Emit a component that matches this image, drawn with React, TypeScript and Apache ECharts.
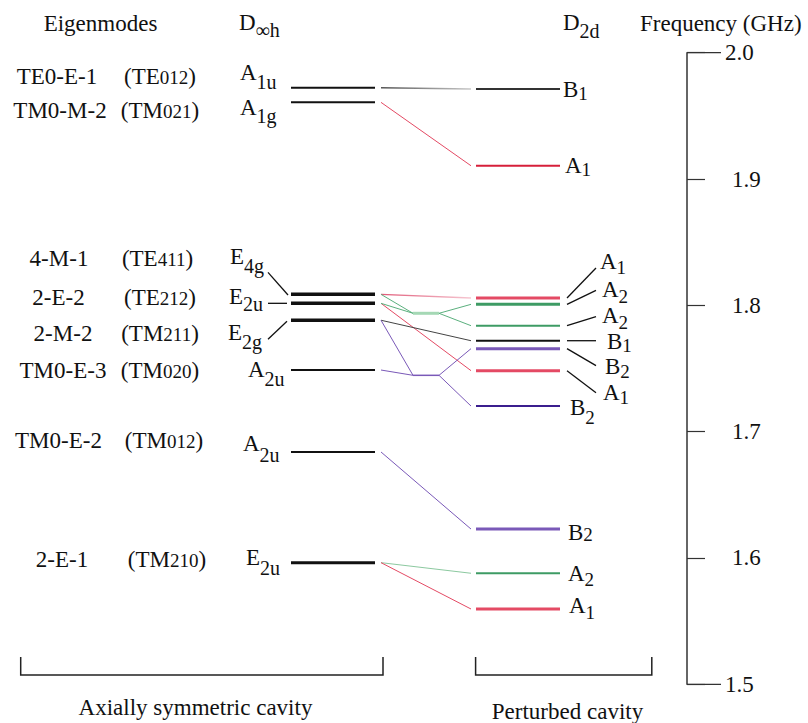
import React, { useEffect, useRef } from "react";
import * as echarts from "echarts";

// ---------------- data ----------------
const frequencyTicks = [1.5, 1.6, 1.7, 1.8, 1.9, 2.0];
const endTicks = [2.0, 1.5];
const modeNames = ["TE0-E-1", "TM0-M-2", "4-M-1", "2-E-2", "2-M-2", "TM0-E-3", "TM0-E-2", "2-E-1"];
const modeFamilies = ["TE", "TM", "TE", "TE", "TM", "TM", "TM", "TM"];
const modeIndices = ["012", "021", "411", "212", "211", "020", "012", "210"];
const axialSymbols = ["A", "A", "E", "E", "E", "A", "A", "E"];
const axialSubscripts = ["1u", "1g", "4g", "2u", "2g", "2u", "2u", "2u"];
const axialFrequencies = [1.9723, 1.9607, 1.8087, 1.8016, 1.7882, 1.7488, 1.6839, 1.5963];
const perturbedSymbols = ["B", "A", "A", "A", "A", "B", "B", "A", "B", "B", "A", "A"];
const perturbedSubscripts = ["1", "1", "1", "2", "2", "1", "2", "1", "2", "2", "2", "1"];
const perturbedFrequencies = [1.9713, 1.9105, 1.8058, 1.8008, 1.7839, 1.772, 1.7657, 1.7483, 1.7203, 1.6229, 1.5879, 1.5596];
const nodeFrequencies = [1.7937, 1.7446];
const nodeInputs = [[2, 3], [4, 5]];
const nodeOutputs = [[3, 4], [6, 8]];
const directLinks = [[0, 0], [1, 1], [2, 2], [3, 7], [4, 5], [6, 9], [7, 10], [7, 11]];

// ---------------- layout & style ----------------
const SERIF = "'Liberation Serif', 'DejaVu Serif', serif";
const F = (px: number) => `${px}px ${SERIF}`;
const INK = "#111";
const COL = { aL: 291, aR: 375, linkL: 381, nodeL: 413, nodeR: 439, linkR: 471, pL: 476, pR: 560, axis: 687, endTick: 721 };
const GRID_TOP = 52.7;
const GRID_BOTTOM = 38.7;

const RED = "#e44a64";
const RED_TOP = "#d61f3a";
const GREEN = "#3e9b64";
const PURPLE = "#7a59b8";
const INDIGO = "#3b1e8e";

const axialWidths = [2, 2, 3.5, 3.5, 3.5, 2, 2, 3];
const axialLabelLayout: any[] = [
  { x: 240, dy: -15, sub: 9 },
  { x: 240, dy: 5, sub: 9 },
  { x: 230, dy: -38, sub: 10, leader: [268, -22, 288, 0.7] },
  { x: 229, dy: -7, sub: 8, leader: [268, 0, 287, 0] },
  { x: 228, dy: 12, sub: 10, leader: [268, 19, 287, 1] },
  { x: 248, dy: -1, sub: 10 },
  { x: 243, dy: -8, sub: 11 },
  { x: 246, dy: -5, sub: 10 },
];
const perturbedColors = ["#333", RED_TOP, RED, GREEN, GREEN, INK, PURPLE, RED, INDIGO, PURPLE, GREEN, RED];
const perturbedWidths = [2, 2, 3, 3, 2, 2, 3, 3, 2, 3, 2, 3];
const perturbedLabelLayout: any[] = [
  { x: 563, dy: 1, sub: 4 },
  { x: 565, dy: 0, sub: 4 },
  { x: 600, dy: -37, sub: 6, leader: [567, 0, 596, -30] },
  { x: 602, dy: -15, sub: 7, leader: [567, 0, 596, -14] },
  { x: 602, dy: -10, sub: 7, leader: [567, 0, 596, -9] },
  { x: 607, dy: 1, sub: 4, leader: [567, 0, 596, 0] },
  { x: 605, dy: 18, sub: 5, leader: [567, 0, 596, 17] },
  { x: 603, dy: 22, sub: 5, leader: [567, 0, 596, 22] },
  { x: 570, dy: 1.5, sub: 9.5 },
  { x: 568, dy: 3, sub: 2 },
  { x: 568, dy: 0, sub: 6.5 },
  { x: 569, dy: -4, sub: 7 },
];
const fade = (a: string, b: string) =>
  new echarts.graphic.LinearGradient(0, 0, 1, 0, [
    { offset: 0, color: a },
    { offset: 1, color: b },
  ]);
const directLinkStyles = [
  { stroke: fade("#555", "#c8c8c8"), lineWidth: 1.5 },
  { stroke: RED, lineWidth: 1 },
  { stroke: fade("#e05a78", "#f6c8d2"), lineWidth: 1.3 },
  { stroke: RED, lineWidth: 1 },
  { stroke: "#444", lineWidth: 1 },
  { stroke: PURPLE, lineWidth: 1 },
  { stroke: "#8cc9a0", lineWidth: 1 },
  { stroke: RED, lineWidth: 1 },
];
const nodeStyles = [
  { line: { stroke: "#5bb07e", lineWidth: 1 }, bar: { stroke: "#a5d8b5", lineWidth: 3 } },
  { line: { stroke: PURPLE, lineWidth: 1 }, bar: { stroke: PURPLE, lineWidth: 1.5 } },
];
const modeRowY = [76, 110, 258, 297, 333, 370, 440, 559];
const modeNameX = [57, 60, 59, 58.5, 63, 63, 58.5, 62];
const modeCodeX = [160, 160, 157.5, 160, 160, 160, 164, 167];

function symbolStyle(sym: string, sub: string, off: number, mainSize: number, subSize: number) {
  return {
    text: `{m|${sym}}{s|${sub}}`,
    fill: INK,
    font: F(mainSize),
    align: "left",
    textAlign: "left",
    verticalAlign: "middle",
    textVerticalAlign: "middle",
    rich: {
      m: { font: F(mainSize), fill: INK, lineHeight: 26, verticalAlign: "middle" },
      s: { font: F(subSize), fill: INK, lineHeight: 22, verticalAlign: "middle", padding: [off * 2, 0, 0, 0] },
    },
  };
}

function plainText(text: string, x: number, y: number, align: string, size = 23) {
  return {
    type: "text",
    x,
    y,
    silent: true,
    style: { text, fill: INK, font: F(size), align, textAlign: align, verticalAlign: "middle", textVerticalAlign: "middle" },
  };
}

export default function App() {
  const ref = useRef<HTMLDivElement>(null);
  useEffect(() => {
    const chart = echarts.init(ref.current!, null, { renderer: "svg" });
    const nA = axialFrequencies.length;

    // connector paths built from the link topology
    const paths: any[] = [];
    directLinks.forEach(([a, p], k) => {
      paths.push({ pts: [[COL.linkL, axialFrequencies[a]], [COL.linkR, perturbedFrequencies[p]]], style: directLinkStyles[k] });
    });
    nodeInputs.forEach((ins, n) => {
      const nf = nodeFrequencies[n];
      ins.forEach((a) => paths.push({ pts: [[COL.linkL, axialFrequencies[a]], [COL.nodeL, nf]], style: nodeStyles[n].line }));
      paths.push({ pts: [[COL.nodeL, nf], [COL.nodeR, nf]], style: nodeStyles[n].bar });
      nodeOutputs[n].forEach((p) => paths.push({ pts: [[COL.nodeR, nf], [COL.linkR, perturbedFrequencies[p]]], style: nodeStyles[n].line }));
    });

    const levelData = [
      ...axialFrequencies.map((f) => [COL.aL, f]),
      ...perturbedFrequencies.map((f) => [COL.pL, f]),
    ];

    const graphics: any[] = [
      plainText("Eigenmodes", 100.5, 23, "center"),
      { type: "text", x: 239, y: 22.5, silent: true, style: symbolStyle("D", "∞h", 7, 23, 20) },
      { type: "text", x: 563, y: 22, silent: true, style: symbolStyle("D", "2d", 9, 23, 20) },
      plainText("Frequency (GHz)", 640, 23, "left"),
      plainText("Axially symmetric cavity", 195.5, 707.5, "center"),
      plainText("Perturbed cavity", 567.5, 711, "center"),
      {
        type: "polyline",
        silent: true,
        shape: { points: [[20.7, 657], [20.7, 675], [383, 675], [383, 657]] },
        style: { stroke: "#222", lineWidth: 1.5, fill: null },
      },
      {
        type: "polyline",
        silent: true,
        shape: { points: [[475.6, 657], [475.6, 675], [651.8, 675], [651.8, 657]] },
        style: { stroke: "#222", lineWidth: 1.5, fill: null },
      },
    ];
    modeNames.forEach((name, i) => {
      graphics.push(plainText(name, modeNameX[i], modeRowY[i], "center"));
      graphics.push({
        type: "text",
        x: modeCodeX[i],
        y: modeRowY[i],
        silent: true,
        style: {
          text: `{p|(${modeFamilies[i]}}{d|${modeIndices[i]}}{p|)}`,
          fill: INK,
          font: F(23),
          align: "center",
          textAlign: "center",
          verticalAlign: "middle",
          textVerticalAlign: "middle",
          rich: {
            p: { font: F(23), fill: INK, lineHeight: 26, verticalAlign: "middle" },
            d: { font: F(19), fill: INK, lineHeight: 22, verticalAlign: "middle", padding: [3, 0, 0, 0] },
          },
        },
      });
    });

    const option: any = {
      animation: false,
      backgroundColor: "#fff",
      grid: [
        { left: 0, right: 0, top: GRID_TOP, bottom: GRID_BOTTOM },
        { left: COL.axis, right: 0, top: GRID_TOP, bottom: GRID_BOTTOM },
      ],
      xAxis: [
        { gridIndex: 0, type: "value", min: 0, max: 808, show: false },
        { gridIndex: 1, type: "value", min: 0, max: 1, show: false },
      ],
      yAxis: [
        { gridIndex: 0, type: "value", min: 1.5, max: 2.0, show: false },
        {
          gridIndex: 1,
          type: "value",
          min: frequencyTicks[0],
          max: frequencyTicks[frequencyTicks.length - 1],
          interval: 0.1,
          position: "left",
          axisLine: { show: true, lineStyle: { color: "#333", width: 1.5 } },
          axisTick: { show: true, inside: true, length: 18, lineStyle: { color: "#333", width: 1.2 } },
          splitLine: { show: false },
          axisLabel: {
            inside: true,
            margin: 38,
            color: INK,
            fontSize: 23,
            fontFamily: SERIF,
            showMinLabel: true,
            showMaxLabel: true,
            formatter: (v: number) => {
              const t = v.toFixed(1);
              const isEnd = endTicks.some((e) => Math.abs(e - v) < 1e-6);
              return isEnd ? `{e|${t}}` : `{m|${t}}`;
            },
            rich: {
              e: { fontSize: 23, fontFamily: SERIF, color: INK },
              m: { fontSize: 23, fontFamily: SERIF, color: INK, padding: [0, 0, 0, 7] },
            },
          },
        },
      ],
      graphic: { elements: graphics },
      series: [
        {
          type: "custom",
          name: "end ticks",
          xAxisIndex: 0,
          yAxisIndex: 0,
          silent: true,
          data: endTicks.map((f) => [COL.axis, f]),
          renderItem: (params: any, api: any) => {
            const f = endTicks[params.dataIndex];
            const p0 = api.coord([COL.axis, f]);
            const p1 = api.coord([COL.endTick, f]);
            return { type: "line", shape: { x1: p0[0], y1: p0[1], x2: p1[0], y2: p1[1] }, style: { stroke: "#333", lineWidth: 1.2 } };
          },
        },
        {
          type: "custom",
          name: "connectors",
          xAxisIndex: 0,
          yAxisIndex: 0,
          silent: true,
          data: paths.map((p) => p.pts[0]),
          renderItem: (params: any, api: any) => {
            const p = paths[params.dataIndex];
            const pts = p.pts.map((q: number[]) => api.coord(q));
            return { type: "polyline", shape: { points: pts }, style: { ...p.style, fill: null } };
          },
        },
        {
          type: "custom",
          name: "levels",
          xAxisIndex: 0,
          yAxisIndex: 0,
          silent: true,
          data: levelData,
          renderItem: (params: any, api: any) => {
            const k = params.dataIndex;
            const isAxial = k < nA;
            const i = isAxial ? k : k - nA;
            const f = isAxial ? axialFrequencies[i] : perturbedFrequencies[i];
            const p0 = api.coord([isAxial ? COL.aL : COL.pL, f]);
            const p1 = api.coord([isAxial ? COL.aR : COL.pR, f]);
            const y = p0[1];
            const lay = isAxial ? axialLabelLayout[i] : perturbedLabelLayout[i];
            const children: any[] = [
              {
                type: "line",
                shape: { x1: p0[0], y1: y, x2: p1[0], y2: y },
                style: { stroke: isAxial ? INK : perturbedColors[i], lineWidth: isAxial ? axialWidths[i] : perturbedWidths[i] },
              },
              {
                type: "text",
                x: lay.x,
                y: y + lay.dy,
                style: isAxial
                  ? symbolStyle(axialSymbols[i], axialSubscripts[i], lay.sub, 23, 20)
                  : symbolStyle(perturbedSymbols[i], perturbedSubscripts[i], lay.sub, 23, 19),
              },
            ];
            if (lay.leader) {
              const L = lay.leader;
              children.push({
                type: "line",
                shape: { x1: L[0], y1: y + L[1], x2: L[2], y2: y + L[3] },
                style: { stroke: INK, lineWidth: 1.3 },
              });
            }
            return { type: "group", children };
          },
        },
      ],
    };
    chart.setOption(option);
    return () => chart.dispose();
  }, []);
  return <div ref={ref} style={{ position: "fixed", left: 0, top: 0, width: 808, height: 723, background: "#fff" }} />;
}
